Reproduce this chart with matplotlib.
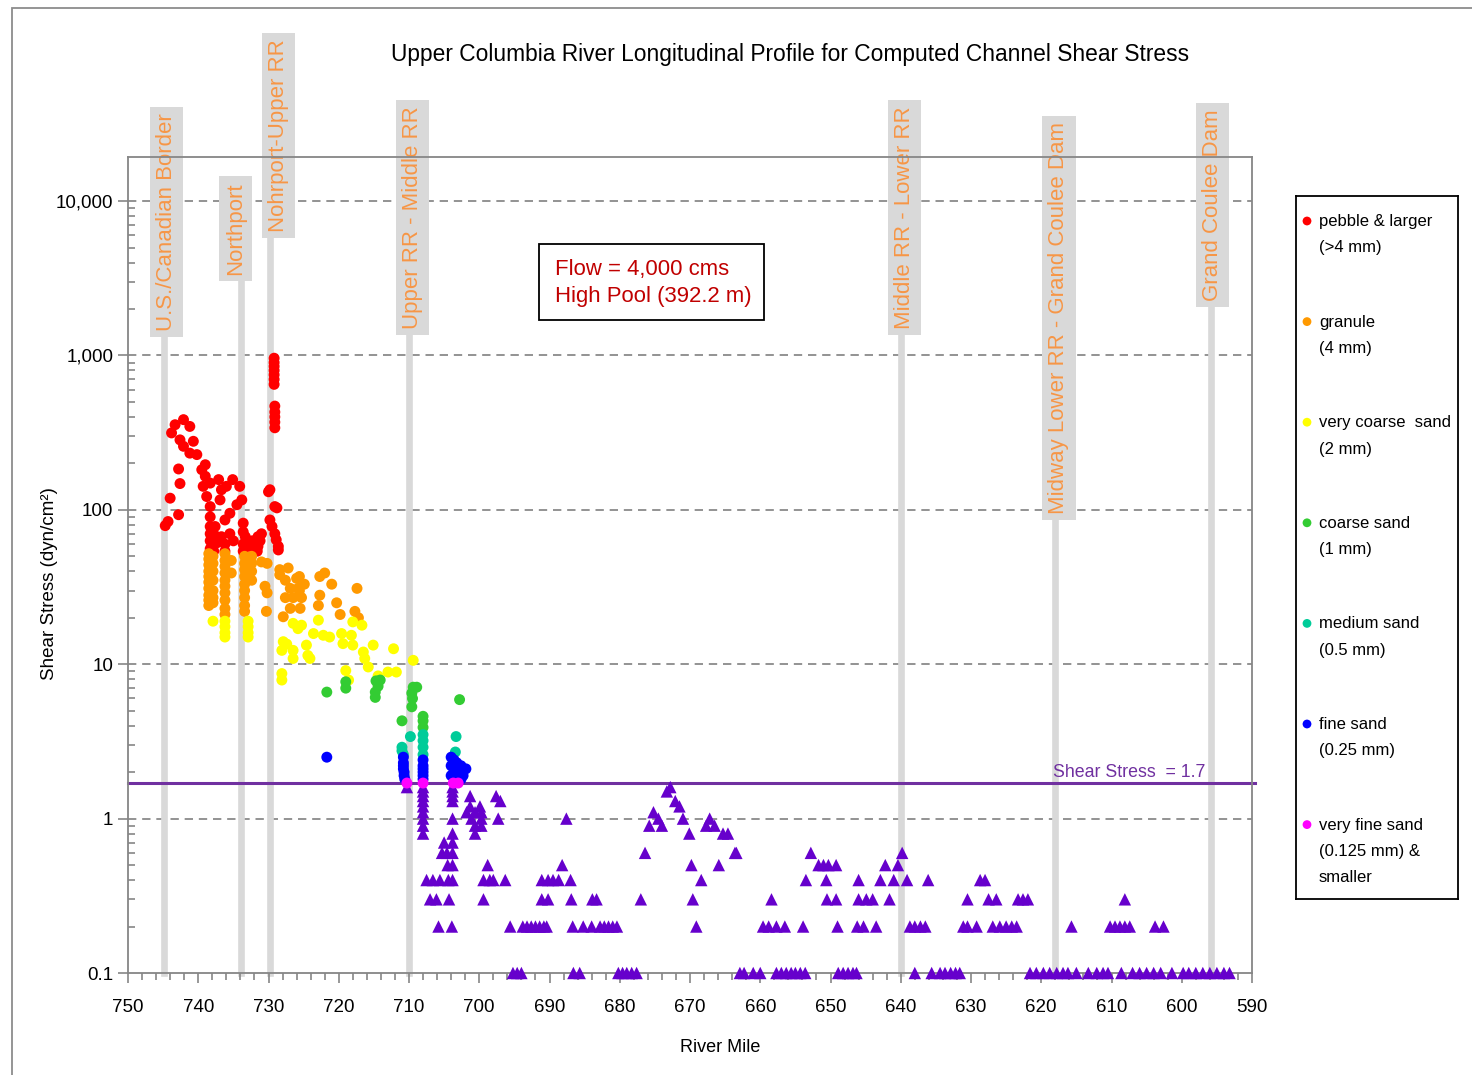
import matplotlib
matplotlib.use("Agg")
import matplotlib.pyplot as plt
import matplotlib.transforms as mtransforms
from matplotlib.patches import Rectangle
import numpy as np

plt.rcParams['font.family'] = ['Liberation Sans', 'DejaVu Sans']

# ---- data (river mile, shear stress dyn/cm2) ----
pebble_mile = [744.7, 744.3, 742.8, 744.0, 742.6, 742.8, 743.8, 743.3, 742.1, 741.2, 742.6, 742.1,
               740.7, 741.2, 740.2, 739.0, 739.5, 739.0, 739.3, 738.3, 737.1, 738.8, 738.3, 738.3,
               738.3, 738.3, 738.3, 738.3, 737.6, 737.6, 737.4, 737.8, 736.9, 736.7, 736.0, 735.1,
               734.1, 733.8, 734.5, 735.5, 736.2, 735.5, 735.0, 736.7, 736.2, 736.2, 733.6, 733.6,
               733.3, 733.6, 733.6, 732.6, 732.3, 731.6, 731.0, 731.5, 731.5, 729.8, 729.1, 729.8,
               729.1, 728.6, 728.9, 729.5, 728.6, 731.2, 728.8, 730.0,
               729.2, 729.2, 729.2, 729.2, 729.2, 729.2, 729.2, 729.1, 729.1, 729.1, 729.1, 729.1]
pebble_val = [79, 84, 93, 119, 148, 184, 315, 356, 384, 347, 284, 258,
              278, 233, 228, 196, 182, 165, 142, 149, 157, 122, 105, 90,
              78, 70, 63, 56, 78, 68, 61, 54, 116, 135, 142, 157,
              142, 116, 108, 95, 86, 70, 63, 67, 60, 54, 82, 72,
              67, 60, 54, 58, 63, 54, 70, 67, 58, 135, 105, 86,
              70, 58, 64, 78, 55, 63, 103, 131,
              960, 900, 850, 800, 750, 700, 650, 470, 430, 400, 370, 340]

granule_mile = [738.5, 738.5, 738.5, 738.5, 738.5, 738.5, 738.5, 738.5, 738.5, 738.5,
                737.9, 737.9, 737.9, 737.9, 737.9, 737.9, 737.9,
                736.2, 736.2, 736.2, 736.2, 736.2, 736.2, 736.2, 736.2, 736.2, 736.2,
                735.3, 735.3,
                733.4, 733.4, 733.4, 733.4, 733.4, 733.4, 733.4, 733.4, 733.4,
                732.4, 732.4, 732.4, 732.4,
                731.0, 730.5, 730.3, 730.2, 730.2,
                728.4, 727.2, 727.6, 726.9, 726.0, 725.8, 727.6, 726.5, 725.3, 726.9, 725.5, 727.9,
                722.7, 722.0, 721.0, 722.7, 720.3, 722.9, 719.8, 717.4, 717.7, 717.2,
                725.6, 725.6, 728.4, 724.9]
granule_val = [52, 48, 44, 40, 37, 34, 31, 28, 26, 24,
               50, 45, 40, 35, 30, 27, 25,
               52, 47, 43, 39, 35, 32, 29, 26, 23, 21,
               47, 39,
               50, 45, 41, 37, 33, 30, 27, 24, 22,
               50, 45, 40, 35,
               46, 32, 22, 45, 29,
               41, 42, 35, 31, 36, 31, 27, 27, 27, 23, 23, 20.3,
               37, 39, 33, 28, 25, 24, 21, 31, 22, 20,
               37, 30, 38, 33]

vcsand_mile = [737.9, 736.2, 736.2, 736.2, 736.2, 732.9, 732.9, 732.9, 732.9,
               726.5, 725.3, 722.9, 723.6, 722.2, 721.3, 719.6, 718.0, 716.7, 718.2, 718.0, 719.4,
               727.9, 728.1, 726.5, 726.5, 724.6, 724.4, 724.1, 728.1, 728.1, 719.0, 718.6,
               716.5, 716.3, 715.8, 715.1, 712.2, 714.4, 713.0, 711.8, 709.4, 725.8, 727.4]
vcsand_val = [19, 19, 17.5, 16, 15, 19, 17.5, 16, 15,
              18.4, 17.9, 19.3, 15.8, 15.4, 15, 15.8, 18.8, 17.9, 15.4, 13.3, 13.6,
              14, 12.3, 12.3, 10.9, 13.3, 11.4, 10.9, 8.7, 7.9, 9.1, 7.9,
              12, 10.9, 9.6, 13.3, 12.6, 8.4, 8.9, 8.9, 10.6, 17, 13.5]

csand_mile = [721.7, 719.0, 719.0, 714.7, 714.4, 714.8, 714.8, 714.1, 709.4, 708.9, 709.6,
              709.5, 709.6, 711.0, 708.0, 708.0, 708.0, 702.8]
csand_val = [6.6, 7.7, 7.0, 7.8, 7.2, 6.6, 6.1, 7.9, 7.1, 7.1, 6.5,
             6.0, 5.3, 4.3, 4.6, 4.3, 3.9, 5.9]

msand_mile = [709.8, 711.0, 711.0, 710.8, 708.0, 708.0, 708.0, 708.0, 703.3, 703.4]
msand_val = [3.4, 2.9, 2.75, 2.6, 3.5, 3.2, 2.9, 2.6, 3.4, 2.7]

fsand_mile = [721.7, 710.8, 710.8, 710.8, 710.8, 710.7, 710.7, 710.6, 708.0, 708.0, 708.0, 708.0,
              708.0, 708.0, 704.0, 703.6, 703.2, 704.0, 703.6, 703.0, 704.0, 703.3, 702.6, 702.3,
              701.9, 702.6]
fsand_val = [2.5, 2.5, 2.3, 2.2, 2.1, 2.0, 1.9, 1.8, 2.4, 2.2, 2.1, 2.0,
             1.9, 1.8, 2.5, 2.4, 2.3, 2.2, 2.1, 2.0, 1.9, 1.8, 2.2, 1.9,
             2.1, 1.8]

vfsand_mile = [710.3, 708.0, 703.7, 703.0]
vfsand_val = [1.7, 1.7, 1.7, 1.7]

# triangles (no circle class)
tri_hi_mile = [710.3, 708.0, 708.0, 708.0, 708.0, 708.0, 708.0, 708.0, 708.0, 708.0,
               703.8, 703.8, 703.8, 703.8, 703.8, 703.8, 705.0, 703.8,
               701.3, 697.6, 697.0, 701.3, 699.9, 701.8, 700.6, 699.7, 701.1, 699.7, 700.6, 699.7,
               700.6, 697.3, 687.6,
               672.8, 673.3, 672.1, 671.5, 675.2, 674.5, 675.8, 674.0, 671.0, 670.1, 667.2, 667.7,
               666.5, 665.3, 664.6]
tri_hi_val = [1.6, 1.6, 1.5, 1.4, 1.3, 1.2, 1.1, 1.0, 0.9, 0.8,
              1.6, 1.5, 1.4, 1.3, 1.0, 0.8, 0.7, 0.7,
              1.4, 1.4, 1.3, 1.2, 1.2, 1.1, 1.1, 1.1, 1.0, 1.0, 0.9, 0.9,
              0.8, 1.0, 1.0,
              1.6, 1.5, 1.3, 1.2, 1.1, 1.0, 0.9, 0.9, 1.0, 0.8, 1.0, 0.9,
              0.9, 0.8, 0.8]
tri_06 = [705.3, 704.6, 703.8, 676.4, 663.6, 663.4, 652.8, 639.8]
tri_05 = [704.5, 703.8, 698.8, 688.2, 669.8, 665.9, 651.7, 651.0, 650.3, 649.2, 642.2, 640.4]
tri_04 = [707.5, 706.6, 705.6, 704.4, 703.8, 699.4, 698.5, 698.0, 696.3, 691.1, 690.2, 689.5,
          688.7, 687.0, 668.4, 653.5, 650.6, 646.0, 642.9, 641.0, 639.1, 636.1, 628.7, 628.0]
tri_03 = [707.0, 706.1, 704.3, 699.4, 691.1, 690.2, 686.9, 683.9, 683.3, 677.0, 669.6, 658.4,
          650.5, 649.2, 646.0, 644.9, 644.0, 641.6, 630.5, 627.5, 626.4, 623.3, 622.6, 621.9, 608.1]
tri_02 = [705.8, 703.9, 695.6, 693.8, 693.2, 692.6, 692.0, 691.4, 690.8, 690.4, 686.7, 685.2,
          684.0, 682.8, 682.2, 681.6, 681.0, 680.4, 669.1, 659.6, 658.8, 657.7, 656.5, 653.9,
          649.0, 646.2, 645.3, 643.5, 638.7, 638.0, 637.2, 636.5, 631.1, 630.5, 629.2, 626.9,
          625.9, 625.0, 624.2, 623.5, 615.7, 610.2, 609.5, 608.8, 608.1, 607.4, 603.8, 602.6]
tri_01 = [695.2, 694.6, 694.0, 686.6, 685.7, 680.2, 679.6, 679.0, 678.3, 677.6, 662.9, 662.3,
          661.0, 660.0, 657.7, 657.0, 656.3, 655.6, 655.0, 654.3, 653.6, 648.9, 648.2, 647.5,
          646.8, 646.3, 638.0, 635.6, 634.4, 633.7, 632.9, 632.2, 631.6, 621.6, 620.7, 619.7,
          618.8, 617.8, 616.9, 616.2, 615.0, 613.3, 612.1, 611.2, 610.5, 608.6, 607.0, 606.0,
          605.0, 604.0, 603.0, 601.4, 599.8, 599.0, 598.0, 597.0, 596.0, 595.0, 594.0, 593.2]

reach_names = ["U.S./Canadian Border", "Northport", "Nohrport-Upper RR", "Upper RR - Middle RR",
               "Middle RR - Lower RR", "Midway Lower RR - Grand Coulee Dam", "Grand Coulee Dam"]
reach_mile = [744.9, 733.9, 729.8, 710.0, 640.0, 618.1, 595.8]
reach_box_mile = [744.5, 734.7, 728.6, 709.5, 639.5, 617.5, 595.6]
reach_box_bottom = [0.779, 0.848, 0.901, 0.782, 0.782, 0.555, 0.816]

legend_labels = ["pebble & larger\n(>4 mm)", "granule\n(4 mm)", "very coarse  sand\n(2 mm)",
                 "coarse sand\n(1 mm)", "medium sand\n(0.5 mm)", "fine sand\n(0.25 mm)",
                 "very fine sand\n(0.125 mm) &\nsmaller"]
class_colors = ["#FF0000", "#FF9900", "#FFFF00", "#33CC33", "#00CC99", "#0000FF", "#FF00FF"]
tri_color = "#6600CC"
line_color = "#7030A0"
grid_color = "#808080"
label_orange = "#F79646"

W, H = 1472, 1075
fig = plt.figure(figsize=(W / 100, H / 100), dpi=100)
fig.patches.append(Rectangle((12 / W, -0.1), 1.2, 1 - 8 / H + 0.1, transform=fig.transFigure,
                             fill=False, edgecolor="#8C8C8C", lw=1.3))

ax = fig.add_axes([128 / W, 1 - 973 / H, (1252 - 128) / W, (973 - 157) / H])
ax.set_yscale("log")
ax.set_ylim(0.1, 19300)
ax.set_xlim(750, 590)

for sp in ax.spines.values():
    sp.set_color("#868686")
    sp.set_linewidth(1.3)

ax.set_xticks(np.arange(590, 751, 10))
ax.set_xticks(np.arange(590, 751, 2), minor=True)
ax.set_xticklabels([str(v) for v in range(590, 751, 10)])
ax.set_yticks([0.1, 1, 10, 100, 1000, 10000])
ax.set_yticklabels(["0.1", "1", "10", "100", "1,000", "10,000"])
ax.tick_params(axis="both", which="major", labelsize=13.5, color="#868686", length=7, width=1.2)
ax.tick_params(axis="x", which="minor", length=5, color="#868686", width=1.2)
ax.tick_params(axis="y", which="minor", direction="in", length=5, color="#868686", width=1.2)
ax.tick_params(axis="y", which="minor", labelleft=False)
ax.tick_params(axis="x", which="major", pad=12)

for g in [1, 10, 100, 1000, 10000]:
    ax.axhline(g, color=grid_color, lw=1.2, ls=(0, (5, 3.5)), zorder=0.5)

# reach boundaries
trans = mtransforms.blended_transform_factory(ax.transData, ax.transAxes)
for name, m, bm, yb in zip(reach_names, reach_mile, reach_box_mile, reach_box_bottom):
    ax.plot([m, m], [0, yb], transform=trans, color="#D9D9D9", lw=4.8, clip_on=False, zorder=1)
    ax.annotate(name, xy=(bm, yb), xycoords=trans, xytext=(0, 4.5), textcoords="offset points",
                rotation=90, ha="center", va="bottom", fontsize=16, color=label_orange,
                annotation_clip=False,
                bbox=dict(facecolor="#D9D9D9", edgecolor="none", pad=4.5), zorder=1)

ax.axhline(1.7, color=line_color, lw=2.2, zorder=2, xmax=1.003, clip_on=False)
ax.text(596.7, 1.76, "Shear Stress  = 1.7", ha="right", va="bottom", fontsize=12.8,
        color=line_color, zorder=5)

circle_sets = [(pebble_mile, pebble_val), (granule_mile, granule_val), (vcsand_mile, vcsand_val),
               (csand_mile, csand_val), (msand_mile, msand_val), (fsand_mile, fsand_val),
               (vfsand_mile, vfsand_val)]

tri_mile = tri_hi_mile + tri_06 + tri_05 + tri_04 + tri_03 + tri_02 + tri_01
tri_val = (tri_hi_val + [0.6] * len(tri_06) + [0.5] * len(tri_05) + [0.4] * len(tri_04)
           + [0.3] * len(tri_03) + [0.2] * len(tri_02) + [0.1] * len(tri_01))
ax.scatter(tri_mile, tri_val, marker="^", s=80, color=tri_color, edgecolors="none",
           zorder=3, clip_on=False)

for (mi, va), c in zip(circle_sets, class_colors):
    ax.scatter(mi, va, s=62, color=c, edgecolors="none", zorder=4)

ax.set_xlabel("River Mile", fontsize=13)
ax.xaxis.set_label_coords((720 - 128) / 1124, (973 - 1039) / 816)
ax.set_ylabel("Shear Stress (dyn/cm²)", fontsize=13.5)
ax.yaxis.set_label_coords((58 - 128) / 1124, 0.477)

fig.text(790 / W, 1 - 55 / H,
         "Upper Columbia River Longitudinal Profile for Computed Channel Shear Stress",
         ha="center", va="center", fontsize=16.4)

# flow annotation box
fig.patches.append(Rectangle((539 / W, 1 - 320 / H), (764 - 539) / W, (320 - 244) / H,
                             transform=fig.transFigure, fill=True, facecolor="white",
                             edgecolor="black", lw=1.3, zorder=5))
fig.text(555 / W, 1 - 283 / H, "Flow = 4,000 cms\nHigh Pool (392.2 m)", ha="left", va="center",
         fontsize=15.9, color="#C00000", linespacing=1.4, zorder=6)

# legend panel
lax = fig.add_axes([1296 / W, 1 - 899 / H, (1458 - 1296) / W, (899 - 196) / H])
lax.set_xlim(0, 162)
lax.set_ylim(703, 0)
lax.set_xticks([])
lax.set_yticks([])
for sp in lax.spines.values():
    sp.set_color("black")
    sp.set_linewidth(1.3)
for i, (lab, c) in enumerate(zip(legend_labels, class_colors)):
    y0 = 25 + i * 100.6
    lax.scatter([11], [y0], s=40, color=c, edgecolors="none")
    lax.text(23, y0 - 7, lab, ha="left", va="top", fontsize=12, linespacing=1.95)

fig.savefig("out.png", dpi=100)
